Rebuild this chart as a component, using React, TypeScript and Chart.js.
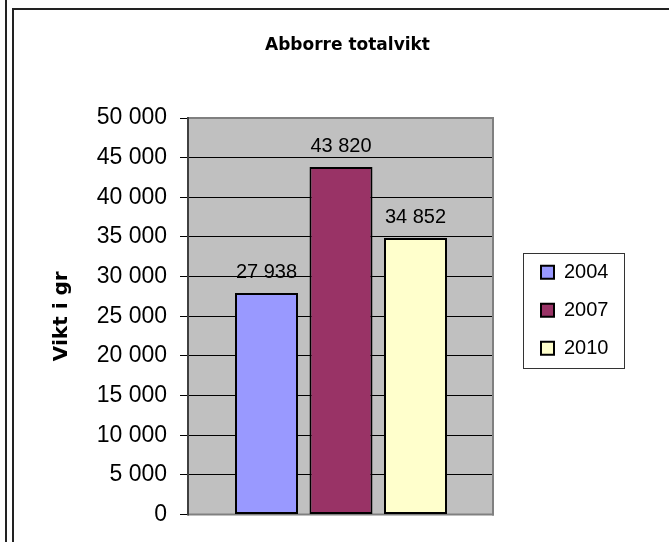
import React, { useEffect, useRef } from 'react';
import { Chart, registerables } from 'chart.js';

Chart.register(...registerables);

const TITLE = 'Abborre totalvikt';
const Y_TITLE = 'Vikt i gr';
const categories = ['Abborre'];
const seriesNames = ['2004', '2007', '2010'];
const values2004 = [27938];
const values2007 = [43820];
const values2010 = [34852];
const seriesColors = ['#9999FF', '#993366', '#FFFFCC'];
const yMin = 0;
const yMax = 50000;
const yStep = 5000;

const ARIAL = "'Liberation Sans', Arial, sans-serif";
const DEJAVU = "'DejaVu Sans', sans-serif";

const fmt = (v: number) => String(Math.round(v)).replace(/\B(?=(\d{3})+(?!\d))/g, ' ');

const decor = {
  id: 'decor',
  afterLayout(chart: any) {
    const lg = chart.legend;
    if (lg) {
      lg.top -= 6;
      lg.bottom -= 6;
    }
    const tb = chart.titleBlock;
    if (tb) {
      tb.left += 6.5;
      tb.right += 6.5;
    }
  },
  beforeDraw(chart: any) {
    const { ctx, chartArea: a } = chart;
    ctx.save();
    ctx.fillStyle = '#222';
    ctx.fillRect(5, 0, 2, chart.height);
    ctx.fillRect(12, 8, 2, chart.height - 8);
    ctx.fillRect(12, 8, chart.width - 12, 2);
    ctx.fillStyle = '#C0C0C0';
    ctx.fillRect(a.left, a.top, a.right - a.left, a.bottom - a.top);
    ctx.restore();
  },
  beforeDatasetsDraw(chart: any) {
    const { ctx, chartArea: a } = chart;
    const w = a.right - a.left;
    const h = a.bottom - a.top;
    ctx.save();
    ctx.fillStyle = '#808080';
    ctx.fillRect(a.left, a.top - 1, w, 2);
    ctx.fillRect(a.right - 2, a.top - 1, 2, h + 2);
    ctx.fillRect(a.left, a.bottom - 1, w, 2);
    ctx.fillStyle = '#404040';
    ctx.fillRect(a.left - 1, a.top - 1, 2, h + 2);
    ctx.restore();
  },
  afterDatasetsDraw(chart: any) {
    const { ctx } = chart;
    ctx.save();
    ctx.fillStyle = '#000';
    ctx.font = `20px ${ARIAL}`;
    ctx.textAlign = 'center';
    ctx.textBaseline = 'alphabetic';
    chart.data.datasets.forEach((ds: any, di: number) => {
      const meta = chart.getDatasetMeta(di);
      meta.data.forEach((bar: any, i: number) => {
        ctx.fillText(fmt(ds.data[i]), bar.x, bar.y - 15);
      });
    });
    ctx.restore();
  },
  afterDraw(chart: any) {
    const lg = chart.legend;
    if (!lg || !lg.legendHitBoxes || !lg.legendHitBoxes.length) return;
    const hb = lg.legendHitBoxes;
    const first = hb[0];
    const last = hb[hb.length - 1];
    const top = first.top + first.height / 2 - 19.7;
    const bottom = last.top + last.height / 2 + 19.7;
    const ctx = chart.ctx;
    ctx.save();
    ctx.strokeStyle = '#333';
    ctx.lineWidth = 1;
    ctx.strokeRect(Math.round(lg.left) + 0.5, Math.round(top) + 0.5, 101, Math.round(bottom - top));
    ctx.restore();
  },
};

export default function App() {
  const ref = useRef<HTMLCanvasElement | null>(null);

  useEffect(() => {
    if (!ref.current) return;
    const seriesValues = [values2004, values2007, values2010];
    const chart = new Chart(ref.current, {
      type: 'bar',
      data: {
        labels: categories,
        datasets: seriesNames.map((name, i) => ({
          label: name,
          data: seriesValues[i],
          backgroundColor: seriesColors[i],
          borderColor: '#000',
          borderWidth: 2,
          borderSkipped: false,
          categoryPercentage: 0.7304,
          barPercentage: 0.8456,
        })),
      },
      options: {
        responsive: false,
        maintainAspectRatio: false,
        animation: false,
        layout: { padding: { left: 0, top: 0, right: 56, bottom: 27.5 } },
        scales: {
          x: { display: false },
          y: {
            min: yMin,
            max: yMax,
            ticks: {
              stepSize: yStep,
              callback: (v: any) => fmt(Number(v)),
              color: '#000',
              font: { family: ARIAL, size: 23 },
              padding: 13,
            },
            grid: {
              color: '#000',
              lineWidth: 1,
              drawTicks: true,
              tickLength: 8,
              tickColor: '#000',
              tickWidth: 1,
            },
            border: { display: false },
            title: {
              display: true,
              text: Y_TITLE,
              color: '#000',
              font: { family: DEJAVU, size: 20, weight: 'bold' },
              padding: { top: 49.5, bottom: 0 },
            },
            afterFit: (s: any) => {
              s.width = 188;
            },
          },
          y2: {
            position: 'right',
            display: true,
            grid: { display: false },
            ticks: { display: false },
            border: { display: false },
            afterFit: (s: any) => {
              s.width = 29;
            },
          },
        },
        plugins: {
          title: {
            display: true,
            text: TITLE,
            color: '#000',
            fullSize: false,
            font: { family: DEJAVU, size: 17, weight: 'bold' },
            padding: { top: 35.2, bottom: 62.4 },
          },
          legend: {
            display: true,
            position: 'right',
            fullSize: false,
            align: 'center',
            maxWidth: 90,
            labels: {
              color: '#000',
              font: { family: ARIAL, size: 20 },
              boxWidth: 13,
              boxHeight: 13,
              padding: 18,
            },
          },
          tooltip: { enabled: false },
        },
      } as any,
      plugins: [decor],
    });
    return () => chart.destroy();
  }, []);

  return (
    <div style={{ position: 'fixed', left: 0, top: 0, width: 669, height: 542, background: '#fff' }}>
      <canvas ref={ref} width={669} height={542} style={{ display: 'block', width: 669, height: 542 }} />
    </div>
  );
}
